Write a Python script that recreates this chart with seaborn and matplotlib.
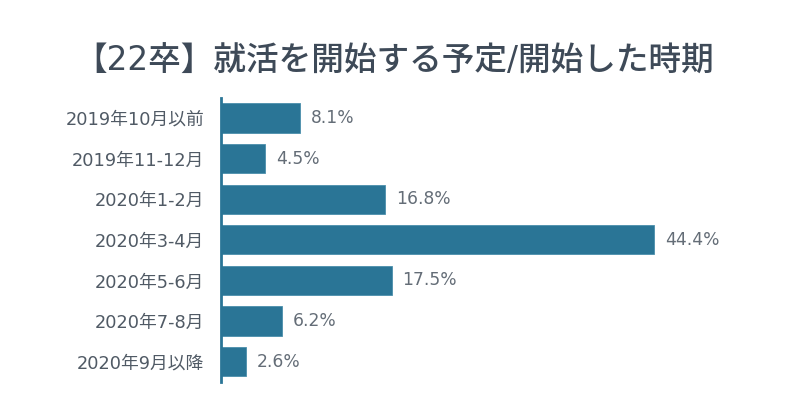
import matplotlib
matplotlib.use("Agg")
import matplotlib.pyplot as plt
import seaborn as sns
import pandas as pd

categories = ["2019年10月以前", "2019年11-12月", "2020年1-2月", "2020年3-4月",
              "2020年5-6月", "2020年7-8月", "2020年9月以降"]
values = [8.1, 4.5, 16.8, 44.4, 17.5, 6.2, 2.6]
title = "【22卒】就活を開始する予定/開始した時期"

sns.set_theme(style="white")
plt.rcParams['font.family'] = ['DejaVu Sans', 'Noto Sans CJK JP']

df = pd.DataFrame({"cat": categories, "val": values})

fig = plt.figure(figsize=(7.99, 4.15), dpi=100)
ax = fig.add_axes([0.2766, 0.0795, 0.951 - 0.2766, 0.7646 - 0.0795])
bar_color = "#2a7596"
sns.barplot(data=df, x="val", y="cat", orient="h", color=bar_color, width=0.72,
            saturation=1, ax=ax, edgecolor="#4a8fab", linewidth=0.6)

for i, v in enumerate(values):
    ax.text(v + 1.1, i, f"{v}%", va="center", ha="left", fontsize=12.3, color="#646d77")

ax.set_xlim(0, 55.2)
ax.set_ylim(6.5, -0.5)
ax.set_xlabel("")
ax.set_ylabel("")
ax.set_xticks([])
for s in ["top", "right", "bottom"]:
    ax.spines[s].set_visible(False)
ax.spines["left"].set_color("#2a7596")
ax.spines["left"].set_linewidth(2)
ax.tick_params(axis="y", length=0, pad=12, labelsize=12.8, labelcolor="#505a65")

fig.text(0.493, 0.853, title, ha="center", va="center", fontsize=23.5,
         color="#3e4a58", fontweight="medium")

fig.savefig("out.png", dpi=100, facecolor="white")
